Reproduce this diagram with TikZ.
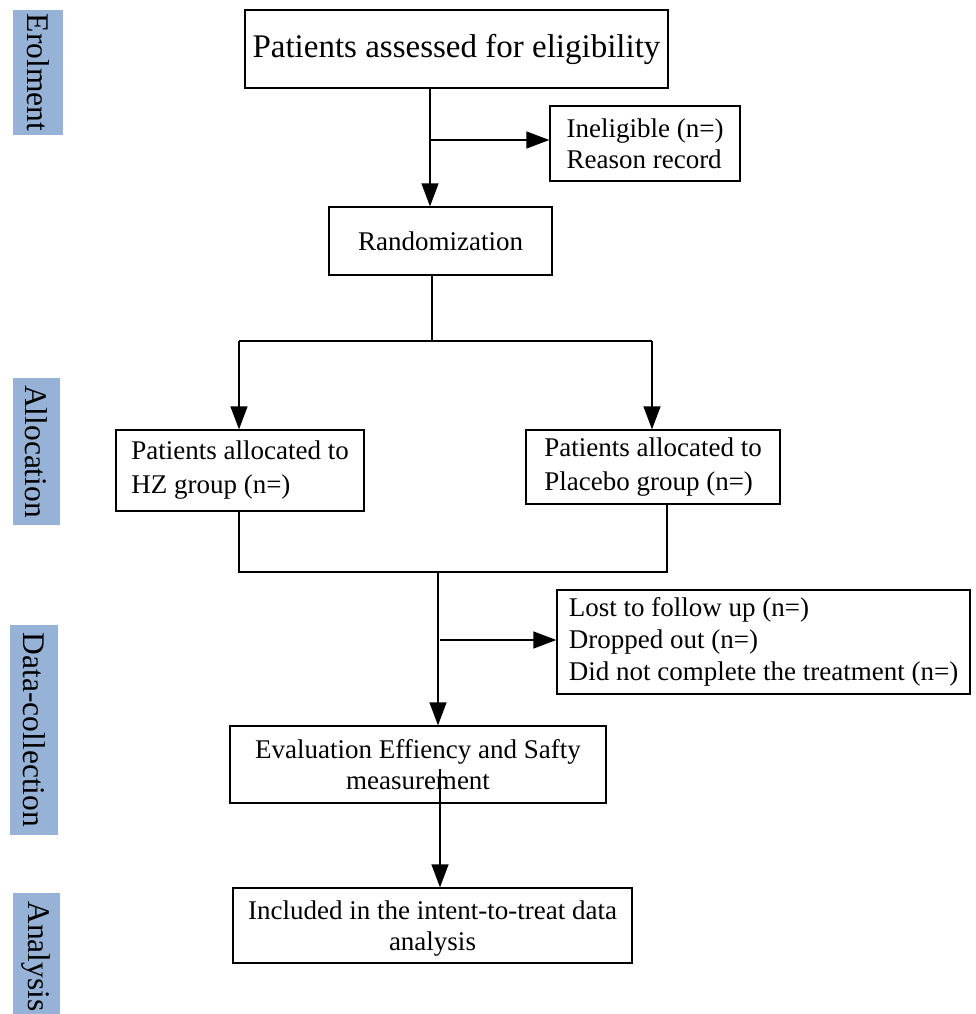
\documentclass[tikz,border=0pt]{standalone}
\usepackage{fontspec}
\setmainfont{Liberation Serif}
\usetikzlibrary{arrows.meta,calc}
\definecolor{sideblue}{RGB}{150,178,214}
\begin{document}
\begin{tikzpicture}[x=1pt,y=-1pt,
  box/.style={draw, line width=1.3pt, inner sep=0pt, font=\fontsize{27}{31}\selectfont},
  side/.style={fill=sideblue, rotate=-90, inner sep=0pt, font=\fontsize{31.5}{31}\selectfont},
  conn/.style={line width=1.3pt},
  arr/.style={line width=1.3pt, -{Triangle[length=23pt,width=17pt]}}]
\useasboundingbox (0,0) rectangle (975,1014);
\begin{scope}
\clip (0,0) rectangle (975,1014);
% side labels
\node[side, minimum width=125pt, minimum height=50pt] (s1) at (38,72.5) {Erolment};
\node[side, minimum width=147pt, minimum height=47pt] (s2) at (36.5,451.5) {Allocation};
\node[side, minimum width=210pt, minimum height=48pt] (s3) at (34,730) {Data-collection};
\node[side, minimum width=127pt, minimum height=47pt] (s4) at (36.5,956.5) {Analysis};
\end{scope}
% boxes
\node[box, minimum width=423pt, minimum height=78pt, font=\fontsize{33}{36}\selectfont] (elig) at (456.5,49) {Patients assessed for eligibility};
\node[box, minimum width=190pt, minimum height=75pt, align=left, text depth=-4pt] (inel) at (645,143.5) {Ineligible (n=)\\Reason record};
\node[box, minimum width=223pt, minimum height=68pt] (rand) at (440.5,241) {Randomization};
\node[box, minimum width=248pt, minimum height=81pt, align=left, font=\fontsize{27}{34}\selectfont] (hz) at (240,470.5) {Patients allocated to\\HZ group (n=)};
\node[box, minimum width=254pt, minimum height=74pt, align=left, font=\fontsize{27}{34}\selectfont] (plac) at (653,467) {Patients allocated to\\Placebo group (n=)};
\node[box, minimum width=413pt, minimum height=104pt, align=left, font=\fontsize{27}{32}\selectfont] (lost) at (763.5,642) {Lost to follow up (n=)\\Dropped out (n=)\\Did not complete the treatment (n=)};
\node[box, minimum width=376pt, minimum height=77pt, align=center] (eval) at (418,764.5) {Evaluation Effiency and Safty\\measurement};
\node[box, minimum width=399pt, minimum height=75pt, align=center, text depth=-6pt] (incl) at (432.5,925.5) {Included in the intent-to-treat data\\analysis};
% helper coordinates
\coordinate (x1) at (430,0);
\coordinate (j1) at (430,140);
\coordinate (x2) at (432,0);
\coordinate (j2) at (432,341);
\coordinate (l2) at (239,341);
\coordinate (r2) at (652,341);
\coordinate (l3) at (239,572);
\coordinate (r3) at (667,572);
\coordinate (j3) at (438,572);
\coordinate (j4b) at (440,640);
\coordinate (evin) at (440,769);
% connectors
\draw[arr] (x1 |- elig.south) -- (x1 |- rand.north);
\draw[arr] (j1) -- (j1 -| inel.west);
\draw[conn] (x2 |- rand.south) -- (j2);
\draw[conn] (l2) -- (r2);
\draw[arr] (l2) -- (l2 |- hz.north);
\draw[arr] (r2) -- (r2 |- plac.north);
\draw[conn] (l3 |- hz.south) -- (l3) -- (r3) -- (r3 |- plac.south);
\draw[arr] (j3) -- (j3 |- eval.north);
\draw[arr] (j4b) -- (j4b -| lost.west);
\draw[arr] (evin) -- (evin |- incl.north);
\end{tikzpicture}
\end{document}
